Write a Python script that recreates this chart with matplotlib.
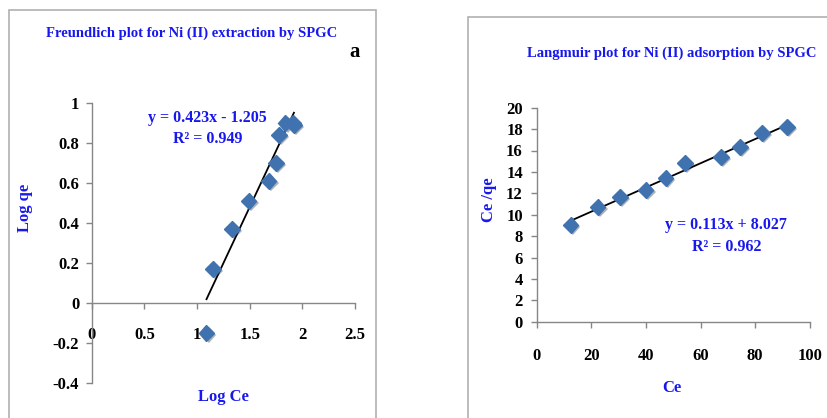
import matplotlib
matplotlib.use("Agg")
import matplotlib.pyplot as plt
import matplotlib.patheffects as pe
from matplotlib.patches import Rectangle
import numpy as np

# ---- Data: Freundlich ----
log_ce = [1.09, 1.15, 1.33, 1.49, 1.68, 1.75, 1.78, 1.84, 1.91, 1.92]
log_qe = [-0.15, 0.17, 0.37, 0.51, 0.61, 0.70, 0.84, 0.90, 0.90, 0.89]
f_slope = 1.123
f_intercept = -1.205
f_eq = "y = 0.423x - 1.205"
f_r2 = "R² = 0.949"
f_xticks = [0, 0.5, 1, 1.5, 2, 2.5]
f_xticklabels = ["0", "0.5", "1", "1.5", "2", "2.5"]
f_yticks = [-0.4, -0.2, 0, 0.2, 0.4, 0.6, 0.8, 1]
f_yticklabels = ["-0.4", "-0.2", "0", "0.2", "0.4", "0.6", "0.8", "1"]

# ---- Data: Langmuir ----
ce = [12.4, 22.3, 30.5, 39.9, 47.2, 54.3, 67.5, 74.5, 82.6, 91.6]
ce_qe = [9.04, 10.69, 11.68, 12.31, 13.40, 14.80, 15.42, 16.36, 17.66, 18.22]
l_slope = 0.113
l_intercept = 8.027
l_eq = "y = 0.113x + 8.027"
l_r2 = "R² = 0.962"
l_xticks = [0, 20, 40, 60, 80, 100]
l_yticks = list(range(0, 21, 2))

BLUE = "#1818EE"
MARK = "#3F72AF"
SPINE = "#868686"
FONT = "Liberation Serif"

fig = plt.figure(figsize=(8.28, 4.18), dpi=100)
W, H = 828, 418

def fx(px):
    return px / W

def fy(py):
    return 1 - py / H

# panel borders
fig.patches.append(Rectangle((fx(9), fy(430)), fx(376) - fx(9), fy(10) - fy(430),
                             transform=fig.transFigure, fill=False, ec="#B0B0B0", lw=1.2))
fig.patches.append(Rectangle((fx(468), fy(430)), fx(840) - fx(468), fy(17) - fy(430),
                             transform=fig.transFigure, fill=False, ec="#B0B0B0", lw=1.2))

shadow = [pe.SimplePatchShadow(offset=(1.5, -1.5), alpha=0.35), pe.Normal()]

def style_axes(ax):
    for s in ["top", "right"]:
        ax.spines[s].set_visible(False)
    for s in ["left", "bottom"]:
        ax.spines[s].set_color(SPINE)
        ax.spines[s].set_linewidth(1.0)
    ax.tick_params(colors=SPINE, length=4, width=1.0, direction="out")
    for lab in ax.get_xticklabels() + ax.get_yticklabels():
        lab.set_color("black")
        lab.set_fontfamily(FONT)
        lab.set_fontweight("bold")
        lab.set_fontsize(12)

# ---- Left axes ----
ax1 = fig.add_axes([fx(91.7), fy(383), fx(355) - fx(91.7), fy(103) - fy(383)])
ax1.set_xlim(0, 2.5)
ax1.set_ylim(-0.4, 1)
ax1.spines["bottom"].set_position(("data", 0))
ax1.set_xticks(f_xticks)
ax1.set_xticklabels(f_xticklabels)
ax1.set_yticks(f_yticks)
ax1.set_yticklabels(f_yticklabels)
ax1.tick_params(axis="x", pad=13)
ax1.tick_params(axis="y", pad=5)
style_axes(ax1)
xs = np.array([min(log_ce), max(log_ce)])
ax1.plot(xs, f_slope * xs + f_intercept, color="black", lw=1.3, zorder=2)
ax1.plot(log_ce, log_qe, linestyle="none", marker="D", ms=8, color=MARK,
         mec=MARK, zorder=3, path_effects=shadow)
ax1.text(1.1, 0.925, f_eq, ha="center", va="center", color=BLUE, fontfamily=FONT,
         fontweight="bold", fontsize=11.5)
ax1.text(1.1, 0.82, f_r2, ha="center", va="center", color=BLUE, fontfamily=FONT,
         fontweight="bold", fontsize=11.5)

fig.text(fx(192), fy(33), "Freundlich plot for Ni (II) extraction by SPGC", ha="center",
         va="center", color=BLUE, fontfamily=FONT, fontweight="bold", fontsize=10.5)
fig.text(fx(355), fy(52), "a", ha="center", va="center", color="black", fontfamily=FONT,
         fontweight="bold", fontsize=15)
fig.text(fx(25), fy(208), "Log qe", ha="center", va="center", rotation=90, color=BLUE,
         fontfamily=FONT, fontweight="bold", fontsize=12)
fig.text(fx(223), fy(397), "Log Ce", ha="center", va="center", color=BLUE,
         fontfamily=FONT, fontweight="bold", fontsize=12)

# ---- Right axes ----
ax2 = fig.add_axes([fx(536.7), fy(321.7), fx(809.7) - fx(536.7), fy(107.7) - fy(321.7)])
ax2.set_xlim(0, 100)
ax2.set_ylim(0, 20)
ax2.set_xticks(l_xticks)
ax2.set_yticks(l_yticks)
ax2.tick_params(axis="x", pad=15)
ax2.tick_params(axis="y", pad=6)
style_axes(ax2)
xs2 = np.array([min(ce), max(ce)])
ax2.plot(xs2, l_slope * xs2 + l_intercept, color="black", lw=1.3, zorder=2)
ax2.plot(ce, ce_qe, linestyle="none", marker="D", ms=8, color=MARK,
         mec=MARK, zorder=3, path_effects=shadow)
ax2.text(69.5, 9.0, l_eq, ha="center", va="center", color=BLUE, fontfamily=FONT,
         fontweight="bold", fontsize=11.5)
ax2.text(69.5, 7.0, l_r2, ha="center", va="center", color=BLUE, fontfamily=FONT,
         fontweight="bold", fontsize=11.5)

fig.text(fx(672), fy(53), "Langmuir plot for Ni (II) adsorption by SPGC", ha="center",
         va="center", color=BLUE, fontfamily=FONT, fontweight="bold", fontsize=10.5)
fig.text(fx(489), fy(200), "Ce /qe", ha="center", va="center", rotation=90, color=BLUE,
         fontfamily=FONT, fontweight="bold", fontsize=12)
fig.text(fx(672), fy(388), "Ce", ha="center", va="center", color=BLUE,
         fontfamily=FONT, fontweight="bold", fontsize=12)

fig.savefig("out.png", dpi=100)
